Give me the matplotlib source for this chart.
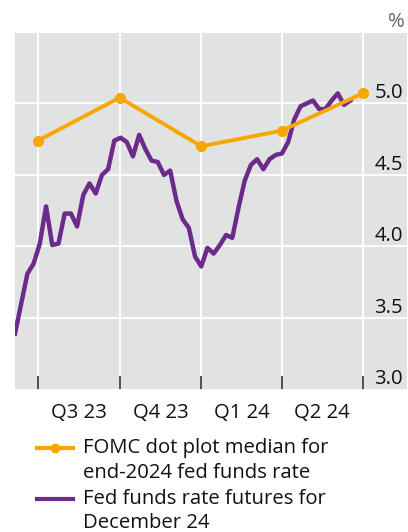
import numpy as np
import pandas as pd
import matplotlib
matplotlib.use("Agg")
import matplotlib.pyplot as plt
import matplotlib.dates as mdates
from matplotlib.lines import Line2D

plt.rcParams["font.family"] = ["Open Sans", "DejaVu Sans"]

# FOMC dot plot median for end-2024 fed funds rate (per quarter start)
DOT_DATES = ["2023-07-01", "2023-10-01", "2024-01-01", "2024-04-01", "2024-07-01"]
DOT_VALUES = [4.74, 5.04, 4.70, 4.81, 5.07]

# Fed funds rate futures for December 24, weekly from early June 2023
FUT_START = "2023-06-05"
FUT_VALUES = [
    3.39, 3.60, 3.81, 3.88, 4.02, 4.28, 4.01, 4.02, 4.23, 4.23,
    4.14, 4.36, 4.44, 4.37, 4.50, 4.54, 4.74, 4.76, 4.73, 4.63,
    4.78, 4.68, 4.60, 4.59, 4.50, 4.53, 4.32, 4.19, 4.13, 3.93,
    3.86, 3.99, 3.95, 4.01, 4.08, 4.06, 4.27, 4.46, 4.57, 4.61,
    4.54, 4.61, 4.64, 4.65, 4.73, 4.89, 4.98, 5.00, 5.02, 4.96,
    4.96, 5.02, 5.07, 4.99, 5.02,
]

QUARTER_STARTS = ["2023-07-01", "2023-10-01", "2024-01-01", "2024-04-01", "2024-07-01"]
QUARTER_LABELS = ["Q3 23", "Q4 23", "Q1 24", "Q2 24"]
Y_TICKS = [3.0, 3.5, 4.0, 4.5, 5.0]

ORANGE = "#F6A800"
PURPLE = "#6C2A8C"
BG = "#E1E2E2"
FS = 14.6

fut_dates = pd.date_range(FUT_START, periods=len(FUT_VALUES), freq="7D")
dot_dates = pd.to_datetime(DOT_DATES)
q_starts = pd.to_datetime(QUARTER_STARTS)
q_mids = q_starts[:-1] + (q_starts[1:] - q_starts[:-1]) / 2

W, H = 408, 532
fig = plt.figure(figsize=(W / 100, H / 100), dpi=100)
ax = fig.add_axes([15 / W, 1 - 389.5 / H, (407 - 15) / W, (389.5 - 33.3) / H])
ax.set_facecolor(BG)
for s in ax.spines.values():
    s.set_visible(False)

ax.plot(fut_dates, FUT_VALUES, color=PURPLE, lw=3.2, zorder=3)
ax.plot(dot_dates, DOT_VALUES, color=ORANGE, lw=2.8, marker="o", ms=7,
        zorder=4)

ax.set_xlim(pd.Timestamp("2023-06-05"), pd.Timestamp("2024-08-20"))
ax.set_ylim(3.0, 5.49)

# vertical grid at quarter starts, labels centred in each quarter
ax.set_xticks(q_starts)
ax.set_xticklabels([])
ax.set_xticks(q_mids, minor=True)
ax.set_xticklabels(QUARTER_LABELS, minor=True)
ax.tick_params(axis="x", which="major", direction="in", length=10, width=1.1,
               color="#222222")
ax.tick_params(axis="x", which="minor", length=0, pad=10, labelsize=FS,
               labelcolor="#111111")
ax.grid(axis="x", which="major", color="white", lw=1.3)

ax.set_yticks(Y_TICKS)
ax.set_yticklabels([f"{v:.1f}" for v in Y_TICKS])
ax.yaxis.tick_right()
ax.tick_params(axis="y", length=0, pad=-3, labelsize=FS, labelcolor="#111111")
plt.setp(ax.get_yticklabels(), ha="right", va="bottom")
ax.grid(axis="y", color="white", lw=1.3)
ax.set_axisbelow(True)

fig.text(405 / W, 1 - 22 / H, "%", ha="right", va="center", fontsize=FS,
         color="#666666")

# legend, handle aligned with first line of each label
legend_items = [
    (ORANGE, True, 448, ["FOMC dot plot median for", "end-2024 fed funds rate"]),
    (PURPLE, False, 499, ["Fed funds rate futures for", "December 24"]),
]
for color, dot, y, lines in legend_items:
    yf = 1 - y / H
    fig.add_artist(Line2D([37 / W, 73 / W], [yf, yf], color=color, lw=3.0,
                          transform=fig.transFigure))
    if dot:
        fig.add_artist(Line2D([55 / W], [yf], color=color, marker="o", ms=6,
                              transform=fig.transFigure))
    for i, line in enumerate(lines):
        fig.text(83 / W, yf - i * 24.5 / H, line, ha="left", va="center",
                 fontsize=FS, color="#111111")

fig.savefig("out.png", dpi=100, facecolor="white")
